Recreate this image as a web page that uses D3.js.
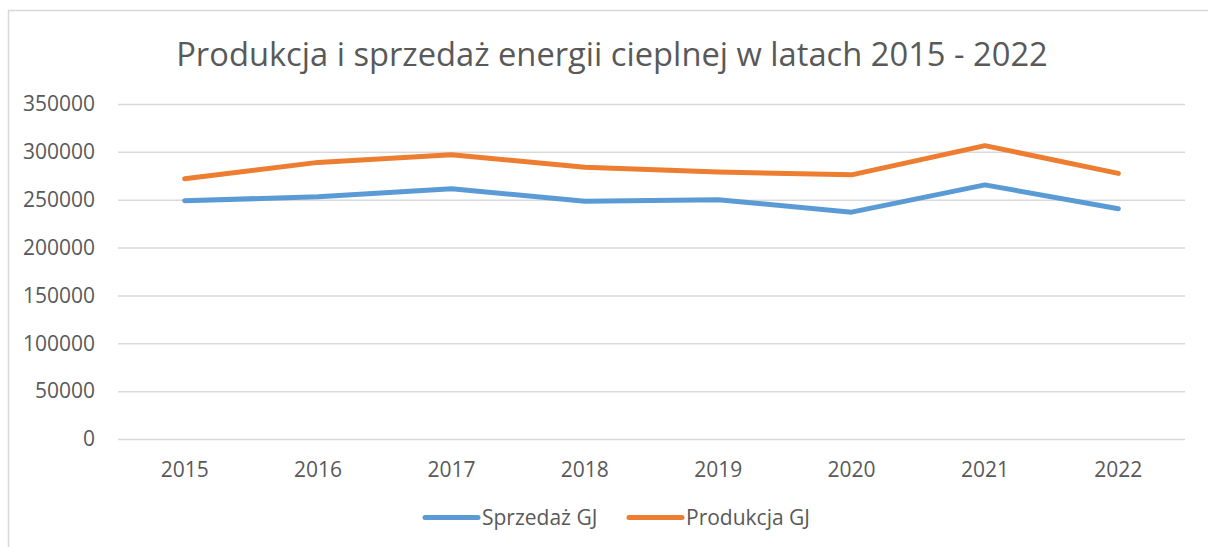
<!DOCTYPE html>
<html>
<head>
<meta charset="utf-8">
<script src="https://cdn.jsdelivr.net/npm/d3@7"></script>
<style>
  body { margin: 0; background: white; }
  text { font-family: "Open Sans", sans-serif; fill: #595959; }
</style>
</head>
<body>
<svg width="1208" height="547"></svg>
<script>
// chart data
var years = ["2015", "2016", "2017", "2018", "2019", "2020", "2021", "2022"];
var sprzedaz = [249000, 253000, 261500, 248500, 250000, 237000, 265500, 240500];
var produkcja = [272000, 289000, 297000, 284000, 279000, 276000, 306500, 277500];
var yTicks = [0, 50000, 100000, 150000, 200000, 250000, 300000, 350000];

var svg = d3.select("svg");

// outer frame of the chart area
svg.append("rect")
  .attr("x", 8.5).attr("y", 10.5)
  .attr("width", 1220).attr("height", 560)
  .attr("fill", "white")
  .attr("stroke", "#d9d9d9")
  .attr("stroke-width", 1.5);

svg.append("text")
  .attr("x", 612).attr("y", 66)
  .attr("text-anchor", "middle")
  .style("font-size", "32.7px")
  .text("Produkcja i sprzedaż energii cieplnej w latach 2015 - 2022");

var x = d3.scaleBand().domain(years).range([118, 1185]);
var y = d3.scaleLinear().domain([0, 350000]).range([439, 104]);

// gridlines + y labels
var yAxis = svg.append("g")
  .attr("transform", "translate(118,0)")
  .call(d3.axisLeft(y).tickValues(yTicks).tickSize(-(1185 - 118)).tickPadding(23).tickFormat(d3.format("d")));
yAxis.select(".domain").remove();
yAxis.selectAll("line").attr("stroke", "#d9d9d9").attr("stroke-width", 1.5);
yAxis.selectAll("text").style("font-size", "21px").attr("fill", "#595959").style("font-family", "'Open Sans', sans-serif");

var xAxis = svg.append("g")
  .attr("transform", "translate(0,439)")
  .call(d3.axisBottom(x).tickSize(0).tickPadding(23));
xAxis.select(".domain").remove();
xAxis.selectAll("text").style("font-size", "21px").attr("fill", "#595959").style("font-family", "'Open Sans', sans-serif");

var line = d3.line()
  .x(function(d, i) { return x(years[i]) + x.bandwidth() / 2; })
  .y(function(d) { return y(d); });

var series = [
  { name: "Sprzedaż GJ", values: sprzedaz, color: "#5b9bd5" },
  { name: "Produkcja GJ", values: produkcja, color: "#ed7d31" }
];

series.forEach(function(s) {
  svg.append("path")
    .datum(s.values)
    .attr("d", line)
    .attr("fill", "none")
    .attr("stroke", s.color)
    .attr("stroke-width", 5)
    .attr("stroke-linecap", "round")
    .attr("stroke-linejoin", "round");
});

// legend
var legendX = [423, 627];
series.forEach(function(s, i) {
  var g = svg.append("g").attr("transform", "translate(" + legendX[i] + ",517.5)");
  g.append("line")
    .attr("x1", 2).attr("x2", 55)
    .attr("stroke", s.color).attr("stroke-width", 5).attr("stroke-linecap", "round");
  g.append("text")
    .attr("x", 59).attr("y", 7.5)
    .style("font-size", "21px")
    .text(s.name);
});
</script>
</body>
</html>
